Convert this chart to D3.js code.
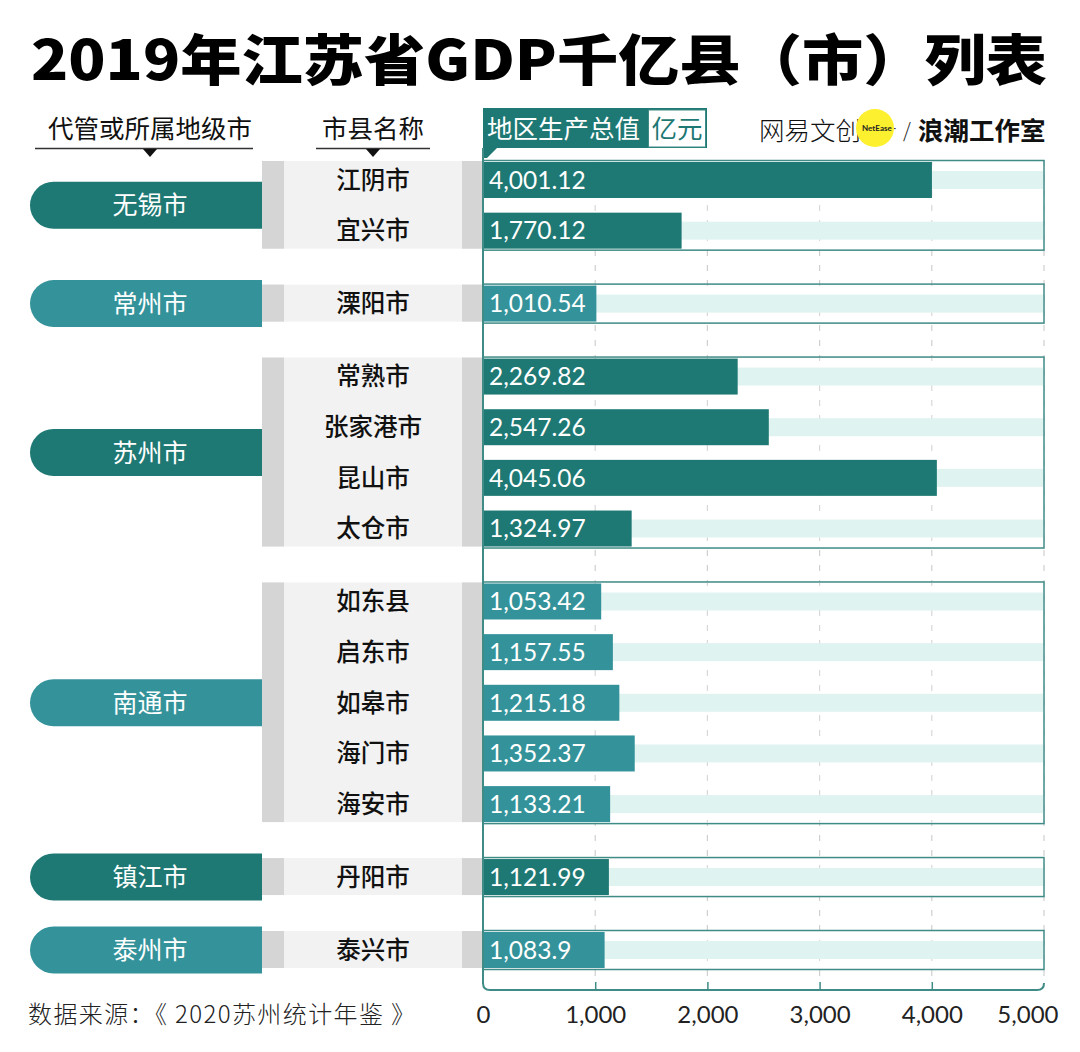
<!DOCTYPE html>
<html>
<head>
<meta charset="utf-8">
<script src="https://cdn.jsdelivr.net/npm/d3@7/dist/d3.min.js"></script>
<style>
  html, body { margin: 0; padding: 0; background: #fff; }
  svg { display: block; }
</style>
</head>
<body>
<svg id="chart" width="1080" height="1052"></svg>
<script>
// ---- data ----
const groups = ["无锡市", "常州市", "苏州市", "南通市", "镇江市", "泰州市"];
const counties = ["江阴市", "宜兴市", "溧阳市", "常熟市", "张家港市", "昆山市", "太仓市",
                  "如东县", "启东市", "如皋市", "海门市", "海安市", "丹阳市", "泰兴市"];
const countyGroup = [0, 0, 1, 2, 2, 2, 2, 3, 3, 3, 3, 3, 4, 5];
const gdp = [4001.12, 1770.12, 1010.54, 2269.82, 2547.26, 4045.06, 1324.97,
             1053.42, 1157.55, 1215.18, 1352.37, 1133.21, 1121.99, 1083.9];
const xTicks = [0, 1000, 2000, 3000, 4000, 5000];
const title = "2019年江苏省GDP千亿县（市）列表";
const source = "数据来源：《 2020苏州统计年鉴 》";

// ---- styles ----
const DARK = "#1e7873", LIGHT = "#34939a";
const groupColor = g => (g % 2 === 0 ? DARK : LIGHT);
const CJK = "'Noto Sans CJK SC', 'Noto Sans', sans-serif";
const NUM = "Lato, 'Noto Sans', sans-serif";

const svg = d3.select("#chart");

// ---- scales ----
const x = d3.scaleLinear().domain([0, 5000]).range([483, 1044]);
const GAP = 0.44;
const slot = i => i + countyGroup[i] * GAP;
const y = d3.scaleLinear().domain([0, slot(counties.length - 1)]).range([180, 950]);
const rowY = i => y(slot(i));
const BAR_H = 36;

const groupInfo = groups.map((name, g) => {
  const idx = counties.map((c, i) => i).filter(i => countyGroup[i] === g);
  const top = rowY(idx[0]), bot = rowY(idx[idx.length - 1]);
  return { name, g, top, bot, mid: (top + bot) / 2 };
});

// ---- title ----
svg.append("text")
  .attr("x", 31).attr("y", 80)
  .attr("font-family", CJK).attr("font-weight", 900)
  .attr("font-size", 55).attr("fill", "#000")
  .attr("textLength", 1016).attr("lengthAdjust", "spacingAndGlyphs")
  .text(title);

// ---- column headers ----
function colHeader(text, cx, x1, x2) {
  svg.append("text").attr("x", cx).attr("y", 138)
    .attr("text-anchor", "middle").attr("font-family", CJK)
    .attr("font-size", 25.5).attr("fill", "#111").text(text);
  svg.append("line").attr("x1", x1).attr("x2", x2).attr("y1", 148.5).attr("y2", 148.5)
    .attr("stroke", "#333").attr("stroke-width", 1.5);
  svg.append("path").attr("d", `M${cx - 7},149 L${cx + 7},149 L${cx},157 Z`).attr("fill", "#111");
}
colHeader("代管或所属地级市", 150, 35, 253);
colHeader("市县名称", 373, 316, 430);

// GDP header tab
svg.append("rect").attr("x", 483).attr("y", 108).attr("width", 224).attr("height", 40).attr("fill", DARK);
svg.append("rect").attr("x", 648.5).attr("y", 110).attr("width", 57).attr("height", 37)
  .attr("fill", "#fff").attr("stroke", "#3f8b86").attr("stroke-width", 1);
svg.append("text").attr("x", 487).attr("y", 138).attr("font-family", CJK).attr("font-size", 25.5)
  .attr("fill", "#fff").text("地区生产总值");
svg.append("text").attr("x", 677).attr("y", 138).attr("text-anchor", "middle").attr("font-family", CJK)
  .attr("font-size", 25.5).attr("fill", DARK).text("亿元");
svg.append("path").attr("d", "M483,148 L497,148 L487,158 L483,158 Z").attr("fill", DARK);

// logo
svg.append("text").attr("x", 759).attr("y", 140).attr("font-family", CJK).attr("font-weight", 300)
  .attr("font-size", 25.5).attr("fill", "#111").text("网易文创");
svg.append("circle").attr("cx", 875).attr("cy", 128).attr("r", 19).attr("fill", "#fdf02f");
svg.append("text").attr("x", 879).attr("y", 131).attr("text-anchor", "middle").attr("font-family", NUM)
  .attr("font-weight", 700).attr("font-size", 8).attr("fill", "#222").text("NetEase ·");
svg.append("text").attr("x", 903).attr("y", 138).attr("font-family", CJK).attr("font-weight", 300)
  .attr("font-size", 20).attr("fill", "#222").text("/");
svg.append("text").attr("x", 918).attr("y", 140).attr("font-family", CJK).attr("font-weight", 700)
  .attr("font-size", 25.5).attr("fill", "#111").text("浪潮工作室");

// ---- gridlines ----
svg.append("g").selectAll("line").data(xTicks.slice(1)).join("line")
  .attr("x1", d => x(d)).attr("x2", d => x(d))
  .attr("y1", 160).attr("y2", 984)
  .attr("stroke", "#cfcfcf").attr("stroke-width", 1.2).attr("stroke-dasharray", "6,9");

// ---- group pills and name columns ----
const left = svg.append("g");
groupInfo.forEach(gi => {
  const r = 23.5, x0 = 30, x1 = 262, yt = gi.mid - r;
  left.append("path")
    .attr("d", `M${x0 + r},${yt} L${x1},${yt} L${x1},${yt + 2 * r} L${x0 + r},${yt + 2 * r} A${r},${r} 0 0 1 ${x0 + r},${yt} Z`)
    .attr("fill", groupColor(gi.g));
  left.append("text").attr("x", 150).attr("y", gi.mid).attr("dy", "0.36em")
    .attr("text-anchor", "middle").attr("font-family", CJK).attr("font-weight", 400)
    .attr("font-size", 25).attr("fill", "#fff").text(gi.name);

  const gt = gi.top - 19, gh = gi.bot - gi.top + 37;
  left.append("rect").attr("x", 262).attr("y", gt).attr("width", 221).attr("height", gh).attr("fill", "#f2f2f2");
  left.append("rect").attr("x", 262).attr("y", gt).attr("width", 22).attr("height", gh).attr("fill", "#d5d5d5");
  left.append("rect").attr("x", 462).attr("y", gt).attr("width", 21).attr("height", gh).attr("fill", "#d5d5d5");
});

left.selectAll("text.name").data(counties).join("text").attr("class", "name")
  .attr("x", 373).attr("y", (d, i) => rowY(i)).attr("dy", "0.36em")
  .attr("text-anchor", "middle").attr("font-family", CJK).attr("font-weight", 500)
  .attr("font-size", 24.5).attr("fill", "#111").text(d => d);

// ---- group boxes ----
const plot = svg.append("g");
groupInfo.forEach(gi => {
  plot.append("rect").attr("x", 483).attr("y", gi.top - 19.5)
    .attr("width", 1044 - 483).attr("height", gi.bot - gi.top + 39)
    .attr("fill", "#fff").attr("stroke", "#3f8b86").attr("stroke-width", 1.5);
});
const clip = svg.append("defs").append("clipPath").attr("id", "boxclip");
groupInfo.forEach(gi => {
  clip.append("rect").attr("x", 484).attr("y", gi.top - 18.5).attr("width", 559).attr("height", gi.bot - gi.top + 37);
});
// gridlines inside boxes (over white fill)
plot.append("g").attr("clip-path", "url(#boxclip)").selectAll("line").data(xTicks.slice(1, 5)).join("line")
  .attr("x1", d => x(d)).attr("x2", d => x(d))
  .attr("y1", 160).attr("y2", 984)
  .attr("stroke", "#d8d8d8").attr("stroke-width", 1.2).attr("stroke-dasharray", "6,9");

// background bands
plot.selectAll("rect.band").data(gdp).join("rect").attr("class", "band")
  .attr("x", x(0)).attr("y", (d, i) => rowY(i) - 9)
  .attr("width", x(5000) - x(0) - 1).attr("height", 18)
  .attr("fill", "#dff3f1");

// bars
plot.selectAll("rect.bar").data(gdp).join("rect").attr("class", "bar")
  .attr("x", x(0)).attr("y", (d, i) => rowY(i) - BAR_H / 2)
  .attr("width", d => x(d) - x(0)).attr("height", BAR_H)
  .attr("fill", (d, i) => groupColor(countyGroup[i]));

// value labels
const fmt = d3.format(",");
plot.selectAll("text.val").data(gdp).join("text").attr("class", "val")
  .attr("x", 489).attr("y", (d, i) => rowY(i)).attr("dy", "0.36em")
  .attr("font-family", NUM).attr("font-size", 24.5).attr("fill", "#fff")
  .text(d => fmt(d));

// ---- axis ----
svg.append("line").attr("x1", 483).attr("x2", 483).attr("y1", 148).attr("y2", 984)
  .attr("stroke", "#3f8b86").attr("stroke-width", 2);
svg.append("path")
  .attr("d", `M483,983 Q483,990 490,990 L1037,990 Q1044,990 1044,983`)
  .attr("fill", "none").attr("stroke", "#3f8b86").attr("stroke-width", 2);

const axis = d3.axisBottom(x).tickValues(xTicks).tickSize(0).tickPadding(0).tickFormat(d3.format(","));
const ax = svg.append("g").attr("transform", "translate(0,990)").call(axis);
ax.select(".domain").remove();
ax.selectAll(".tick text").attr("y", 24).attr("dy", "0.36em")
  .attr("font-family", NUM).attr("font-size", 24).attr("fill", "#222");
ax.selectAll(".tick").filter(d => d === 5000).select("text").attr("text-anchor", "end").attr("x", 14);
ax.selectAll(".tick").filter(d => d > 0 && d < 5000).append("line")
  .attr("y1", -8).attr("y2", 0).attr("stroke", "#3f8b86").attr("stroke-width", 1.5);

// ---- source ----
svg.append("text").attr("x", 28).attr("y", 1014).attr("dy", "0.36em")
  .attr("font-family", CJK).attr("font-weight", 300).attr("font-size", 24).attr("fill", "#222")
  .attr("textLength", 387).attr("lengthAdjust", "spacing")
  .text(source);
</script>
</body>
</html>
